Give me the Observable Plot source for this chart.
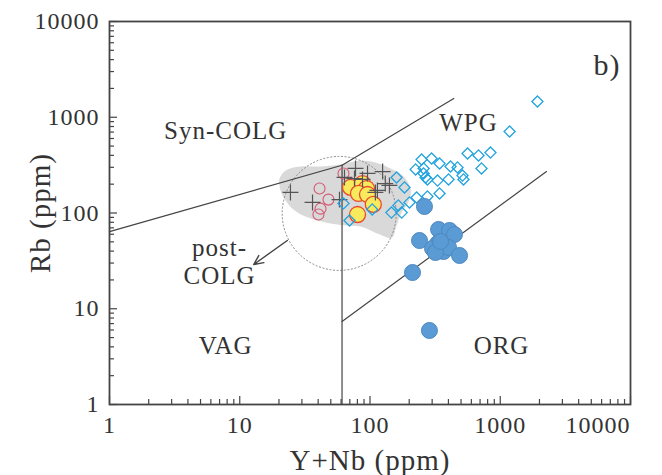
<!DOCTYPE html>
<html><head><meta charset="utf-8">
<script src="https://cdn.jsdelivr.net/npm/d3@7"></script>
<script src="https://cdn.jsdelivr.net/npm/@observablehq/plot@0.6"></script>
<style>
body{margin:0;background:#fff}
svg text{letter-spacing:1px}
</style>
</head><body><div id="chart"></div>
<script>
// ---- axis ticks ----
const decades = [1, 10, 100, 1000, 10000];
const xLabelTicks = [1, 10, 100, 1000];
const xLastTick = [10000];
const minorTicks = [2,3,4,5,6,7,8,9,20,30,40,50,60,70,80,90,200,300,400,500,600,700,800,900,2000,3000,4000,5000,6000,7000,8000,9000];

// ---- WPG samples (open blue diamonds) ----
const wpgX = [1930,1180,561,681,841,718,513,522,415,470,342,297,249,224,258,267,276,330,401,160,184,342,276,228,201,165,146,175,62.6,69.6,104,258];
const wpgY = [1460,710,418,399,428,292,246,224,306,299,329,371,362,285,292,235,224,218,224,235,185,160,149,145,129,120,101,101,126,83.5,109,259];

// ---- ORG samples (filled blue circles) ----
const orgX = [262,336,408,445,240,330,302,367,401,487,212,286,318,348];
const orgY = [117,67.3,65.7,59.6,51.6,48,42.6,39.6,43.6,36,23.9,5.93,38.7,50.4];

// ---- crosses ----
const crossX = [24.5,36.2,58.3,77.4,63.7,95.7,125,131,114,141,76,87.6,110];
const crossY = [164,129,138,292,235,259,271,203,172,194,229,224,164];

// ---- open pink circles ----
const pinkX = [41,48,41.7,40.2,62.6];
const pinkY = [180,138,111,96.4,259];

// ---- yellow filled circles ----
const yelX = [70.9,87.6,94,81.6,95.7,106,80.2];
const yelY = [185,203,180,160,156,123,96.4];

// ---- gray field outline ----
const fieldX = [20.2,22.5,29.3,41.7,59.4,84.6,110,144,181,205,200,175,160,147,118,84.6,64.9,45.5,32,25.4,21.3,20.2];
const fieldY = [229,278,306,306,321,353,337,292,241,180,135,101,74,55,60,72.3,74,79.6,91.9,111,152,194];

// ---- discrimination boundaries ----
const boundaryId = ["A","A","B","B","C","C","D","D"];
const boundaryX  = [1,61, 61,440, 61,61, 61,2265];
const boundaryY  = [64,315, 315,1570, 315,1, 7.36,271];

// post-COLG circle and arrow
const postColgCenter = {x: 58, y: 99};
const arrowFrom = {x: 23.2, y: 51.6};
const arrowTo = {x: 12.8, y: 29};

// field labels
const labelText = ["Syn-COLG","WPG","VAG","ORG","post-\nCOLG"];
const labelX = [7.8, 570, 7.8, 1023, 7.0];
const labelY = [727, 881, 4.13, 4.13, 31.5];

const zip = (xs, ys) => xs.map((x, i) => ({x, y: ys[i]}));
const W = 662, H = 475, ML = 109, MR = 32, MT = 21, MB = 71;
const PW = W - ML - MR, PH = H - MT - MB;
const ink = "#333";

const chart = Plot.plot({
  width: W, height: H,
  marginLeft: ML, marginRight: MR, marginTop: MT, marginBottom: MB,
  x: {type: "log", domain: [1, 10000], label: null},
  y: {type: "log", domain: [1, 10000], label: null},
  style: {fontFamily: "'Liberation Serif', serif", color: ink, background: "#fff", overflow: "visible"},
  marks: [
    Plot.line(zip(fieldX, fieldY), {x: "x", y: "y", curve: "catmull-rom-closed", fill: "#d9d9d9", stroke: "none"}),
    Plot.dot([postColgCenter], {x: "x", y: "y", r: 57, fill: "none", stroke: "#8a8a8a", strokeWidth: 1, strokeDasharray: "2,1.6"}),
    Plot.line(boundaryX.map((x, i) => ({x, y: boundaryY[i], id: boundaryId[i]})), {x: "x", y: "y", z: "id", stroke: "#444", strokeWidth: 1.2}),
    Plot.arrow([{x1: arrowFrom.x, y1: arrowFrom.y, x2: arrowTo.x, y2: arrowTo.y}], {x1: "x1", y1: "y1", x2: "x2", y2: "y2", stroke: "#444", strokeWidth: 1.4, headLength: 11, headAngle: 50}),
    Plot.dot(zip(pinkX, pinkY), {x: "x", y: "y", r: 5.5, fill: "none", stroke: "#d45a74", strokeWidth: 1.1}),
    Plot.dot(zip(yelX, yelY), {x: "x", y: "y", r: 8, fill: "#f8ea5c", stroke: "#ea4a2c", strokeWidth: 1.3}),
    Plot.dot(zip(crossX, crossY), {x: "x", y: "y", symbol: "plus", r: 5.2, stroke: "#555", strokeWidth: 1.2}),
    Plot.dot(zip(wpgX, wpgY), {x: "x", y: "y", symbol: "diamond2", r: 5, fill: "#fff", fillOpacity: 0, stroke: "#23a3de", strokeWidth: 1.3}),
    Plot.dot(zip(orgX, orgY), {x: "x", y: "y", r: 8, fill: "#5b9bd5", stroke: "#4d88bf", strokeWidth: 1}),
    // ticks (inward)
    Plot.tickY(decades, {y: d => d, insetRight: PW - 8, stroke: "#444", strokeWidth: 1.2}),
    Plot.tickY(minorTicks, {y: d => d, insetRight: PW - 5, stroke: "#444", strokeWidth: 1.2}),
    Plot.tickX(decades, {x: d => d, insetTop: PH - 8, stroke: "#444", strokeWidth: 1.2}),
    Plot.tickX(minorTicks, {x: d => d, insetTop: PH - 5, stroke: "#444", strokeWidth: 1.2}),
    Plot.axisY(decades, {anchor: "left", tickSize: 0, tickPadding: 10, fontSize: 24, tickFormat: d => String(d), label: null}),
    Plot.axisX(xLabelTicks, {anchor: "bottom", tickSize: 0, tickPadding: 11, fontSize: 24, tickFormat: d => String(d), label: null}),
    Plot.axisX(xLastTick, {anchor: "bottom", tickSize: 0, tickPadding: 11, fontSize: 24, textAnchor: "end", dx: 0, tickFormat: d => String(d), label: null}),
    Plot.frame({stroke: "#444", strokeWidth: 1.8}),
    Plot.text(labelText.map((t, i) => ({t, x: labelX[i], y: labelY[i]})), {x: "x", y: "y", text: "t", fontSize: 25, lineHeight: 1.12, fill: ink}),
    Plot.text(["b)"], {frameAnchor: "top-right", dx: -10, dy: 44, fontSize: 30, fill: ink, textAnchor: "end", lineAnchor: "middle"}),
    Plot.text(["Rb (ppm)"], {frameAnchor: "left", dx: -69, rotate: -90, fontSize: 29, fill: ink, textAnchor: "middle", lineAnchor: "middle"}),
    Plot.text(["Y+Nb (ppm)"], {frameAnchor: "bottom", dy: 56, fontSize: 29, fill: ink, textAnchor: "middle", lineAnchor: "middle"})
  ]
});
document.getElementById("chart").appendChild(chart);
</script>
</body></html>
